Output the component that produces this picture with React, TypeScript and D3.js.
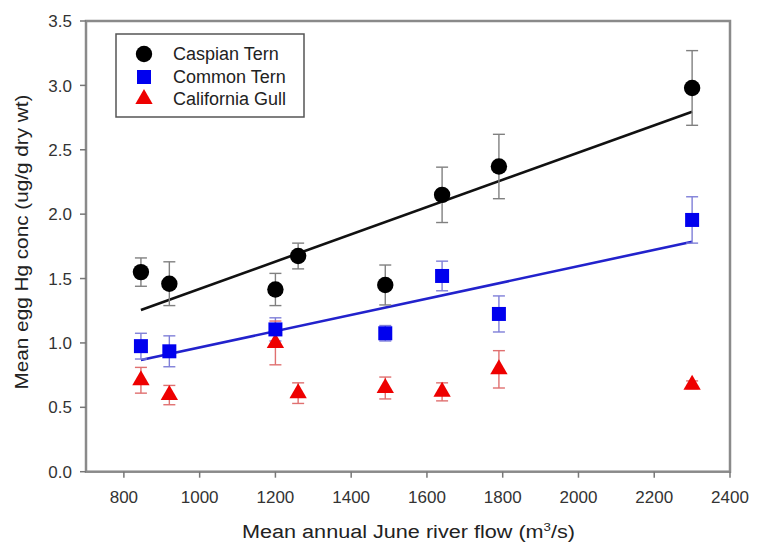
import React from "react";
import * as d3 from "d3";

const flowCaspian = [845, 920, 1200, 1260, 1490, 1640, 1790, 2300];
const caspianMean = [1.55, 1.46, 1.415, 1.675, 1.45, 2.15, 2.37, 2.98];
const caspianErr = [0.11, 0.17, 0.125, 0.1, 0.155, 0.215, 0.25, 0.29];

const flowCommon = [845, 920, 1200, 1490, 1640, 1790, 2300];
const commonMean = [0.975, 0.935, 1.105, 1.075, 1.52, 1.225, 1.955];
const commonErr = [0.1, 0.12, 0.09, 0.06, 0.115, 0.14, 0.18];

const flowGull = [845, 920, 1200, 1260, 1490, 1640, 1790, 2300];
const gullMean = [0.71, 0.595, 1.0, 0.61, 0.65, 0.62, 0.795, 0.675];
const gullErr = [0.1, 0.075, 0.17, 0.08, 0.085, 0.07, 0.145, 0.03];

const fitX = [845, 2300];
const caspianFit = [1.256, 2.796];
const commonFit = [0.867, 1.786];

const xTicks = [800, 1000, 1200, 1400, 1600, 1800, 2000, 2200, 2400];
const yTicks = [0, 0.5, 1.0, 1.5, 2.0, 2.5, 3.0, 3.5];
const legendLabels = ["Caspian Tern", "Common Tern", "California Gull"];

const W = 757;
const H = 545;
const L = 86, R = 730, T = 21, B = 471.7;
const FONT = "'Liberation Sans', Arial, sans-serif";

export default function App() {
  const x = d3.scaleLinear().domain([700, 2400]).range([L, R]);
  const y = d3.scaleLinear().domain([0, 3.5]).range([B, T]);
  const line = d3.line<number>().x((_, i) => x(fitX[i])).y((v) => y(v));
  const tri = d3.symbol(d3.symbolTriangle, 130)() as string;
  const sq = d3.symbol(d3.symbolSquare, 196)() as string;

  const errBars = (xs: number[], ms: number[], es: number[], color: string, key: string) =>
    xs.map((fx, i) => {
      const cx = x(fx);
      const y1 = y(ms[i] + es[i]);
      const y2 = y(ms[i] - es[i]);
      return (
        <g key={key + i} stroke={color} strokeWidth={1.4} fill="none">
          <line x1={cx} x2={cx} y1={y1} y2={y2} />
          <line x1={cx - 6} x2={cx + 6} y1={y1} y2={y1} />
          <line x1={cx - 6} x2={cx + 6} y1={y2} y2={y2} />
        </g>
      );
    });

  return (
    <svg width={W} height={H} style={{ position: "absolute", left: 0, top: 0, background: "#fff" }}>
      {/* frame */}
      <rect x={L} y={T} width={R - L} height={B - T} fill="none" stroke="#8a8a8a" strokeWidth={2.5} />
      {/* ticks */}
      {xTicks.map((t) => (
        <g key={"xt" + t}>
          <line x1={x(t)} x2={x(t)} y1={B} y2={B + 6} stroke="#777" strokeWidth={1.5} />
          <text x={x(t)} y={503} textAnchor="middle" fontFamily={FONT} fontSize={17} fill="#333">
            {t}
          </text>
        </g>
      ))}
      {yTicks.map((t) => (
        <g key={"yt" + t}>
          <line x1={L - 6} x2={L} y1={y(t)} y2={y(t)} stroke="#777" strokeWidth={1.5} />
          <text x={72} y={y(t)} dy="0.36em" textAnchor="end" fontFamily={FONT} fontSize={17} fill="#333">
            {t.toFixed(1)}
          </text>
        </g>
      ))}
      {/* axis titles */}
      <text x={242} y={538} fontFamily={FONT} fontSize={18} fill="#222" textLength={333} lengthAdjust="spacingAndGlyphs">
        Mean annual June river flow (m<tspan dy={-7} fontSize={11}>3</tspan><tspan dy={7}>/s)</tspan>
      </text>
      <text
        transform={`translate(28,${242}) rotate(-90)`}
        textAnchor="middle"
        fontFamily={FONT}
        fontSize={18}
        fill="#222"
        textLength={295}
        lengthAdjust="spacingAndGlyphs"
      >
        Mean egg Hg conc (ug/g dry wt)
      </text>

      {/* regression lines */}
      <path d={line(caspianFit) as string} stroke="#111" strokeWidth={2.6} fill="none" />
      <path d={line(commonFit) as string} stroke="#2222cc" strokeWidth={2.6} fill="none" />

      {/* error bars */}
      {errBars(flowCaspian, caspianMean, caspianErr, "#808080", "ce")}
      {errBars(flowCommon, commonMean, commonErr, "#7f7fd8", "me")}
      {errBars(flowGull, gullMean, gullErr, "#e07070", "ge")}

      {/* points */}
      {flowGull.map((fx, i) => (
        <path key={"g" + i} d={tri} transform={`translate(${x(fx)},${y(gullMean[i])})`} fill="#ee0000" />
      ))}
      {flowCommon.map((fx, i) => (
        <path key={"m" + i} d={sq} transform={`translate(${x(fx)},${y(commonMean[i])})`} fill="#0000ee" />
      ))}
      {flowCaspian.map((fx, i) => (
        <circle key={"c" + i} cx={x(fx)} cy={y(caspianMean[i])} r={8.2} fill="#000" />
      ))}

      {/* legend */}
      <rect x={116} y={34} width={188} height={83} fill="#fff" stroke="#555" strokeWidth={1.5} />
      <circle cx={144} cy={54} r={8.2} fill="#000" />
      <path d={sq} transform="translate(144,77)" fill="#0000ee" />
      <path d={tri} transform="translate(144,99)" fill="#ee0000" />
      {legendLabels.map((lab, i) => (
        <text key={lab} x={173} y={[54, 77, 99][i]} dy="0.36em" fontFamily={FONT} fontSize={18} fill="#222">
          {lab}
        </text>
      ))}
    </svg>
  );
}
